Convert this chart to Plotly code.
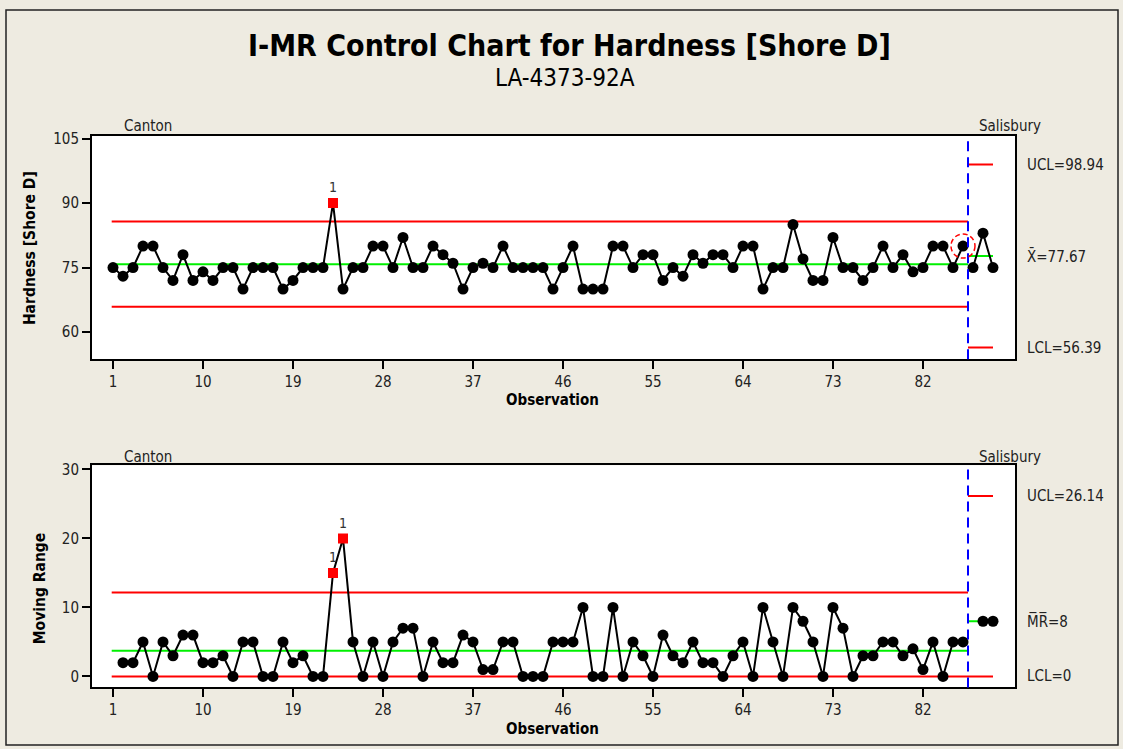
import plotly.graph_objects as go

# ---------------- data ----------------
observations = list(range(1, 90))
stage_names = ["Canton", "Salisbury"]
stage_sizes = [86, 3]

hardness = [75, 73, 75, 80, 80, 75, 72, 78, 72, 74, 72, 75, 75, 70, 75, 75, 75, 70, 72, 75,
            75, 75, 90, 70, 75, 75, 80, 80, 75, 82, 75, 75, 80, 78, 76, 70, 75, 76, 75, 80,
            75, 75, 75, 75, 70, 75, 80, 70, 70, 70, 80, 80, 75, 78, 78, 72, 75, 73, 78, 76,
            78, 78, 75, 80, 80, 70, 75, 75, 85, 77, 72, 72, 82, 75, 75, 72, 75, 80, 75, 78,
            74, 75, 80, 80, 75, 80, 75, 83, 75]

moving_range = [None, 2, 2, 5, 0, 5, 3, 6, 6, 2, 2, 3, 0, 5, 5, 0, 0, 5, 2, 3,
                0, 0, 15, 20, 5, 0, 5, 0, 5, 7, 7, 0, 5, 2, 2, 6, 5, 1, 1, 5,
                5, 0, 0, 0, 5, 5, 5, 10, 0, 0, 10, 0, 5, 3, 0, 6, 3, 2, 5, 2,
                2, 0, 3, 5, 0, 10, 5, 0, 10, 8, 5, 0, 10, 7, 0, 3, 3, 5, 5, 3,
                4, 1, 5, 0, 5, 5, None, 8, 8]

x_tick_vals = [1, 10, 19, 28, 37, 46, 55, 64, 73, 82]
i_tick_vals = [60, 75, 90, 105]
mr_tick_vals = [0, 10, 20, 30]
circled_obs = 86

# ---------------- styling ----------------
BG = "#EEEBE1"
FONT = "'DejaVu Sans Condensed', 'Liberation Sans', Arial, sans-serif"
W, H = 1123, 749
XD = [92 / W, 1015 / W]
TOP_D = [1 - 356 / H, 1 - 131 / H]
BOT_D = [1 - 687 / H, 1 - 463 / H]

fig = go.Figure()

# stage boundaries
bounds = []
s = 0
for n in stage_sizes:
    bounds.append((s, s + n))
    s += n

limits_i, limits_mr = [], []
for (a, b) in bounds:
    xs = hardness[a:b]
    mrs = [m for m in moving_range[a:b] if m is not None]
    mean = sum(xs) / len(xs)
    mrbar = sum(mrs) / len(mrs)
    sig = mrbar / 1.128
    limits_i.append((mean - 3 * sig, mean, mean + 3 * sig))
    limits_mr.append((0.0, mrbar, 3.267 * mrbar))

for k, (a, b) in enumerate(bounds):
    xs = observations[a:b]
    yi = hardness[a:b]
    ym = moving_range[a:b]
    lcl, cl, ucl = limits_i[k]
    mlcl, mcl, mucl = limits_mr[k]
    x0 = xs[0] - 0.13 if k == 0 else xs[0] - 0.5
    x1 = xs[-1] + 0.5 if k < len(bounds) - 1 else xs[-1]

    # control lines
    for val, col in [(ucl, "#FF0000"), (cl, "#00F000"), (lcl, "#FF0000")]:
        fig.add_trace(go.Scatter(x=[x0, x1], y=[val, val], mode="lines",
                                 line=dict(color=col, width=2), xaxis="x", yaxis="y",
                                 hoverinfo="skip", showlegend=False))
    for val, col in [(mucl, "#FF0000"), (mcl, "#00F000"), (mlcl, "#FF0000")]:
        fig.add_trace(go.Scatter(x=[x0, x1], y=[val, val], mode="lines",
                                 line=dict(color=col, width=2), xaxis="x2", yaxis="y2",
                                 hoverinfo="skip", showlegend=False))

    # data lines
    fig.add_trace(go.Scatter(x=xs, y=yi, mode="lines", line=dict(color="black", width=2),
                             xaxis="x", yaxis="y", showlegend=False, connectgaps=False))
    fig.add_trace(go.Scatter(x=xs, y=ym, mode="lines", line=dict(color="black", width=2),
                             xaxis="x2", yaxis="y2", showlegend=False, connectgaps=False))

    # normal / flagged points I chart
    nx, ny, fx, fy = [], [], [], []
    for xv, yv in zip(xs, yi):
        if yv > ucl or yv < lcl:
            fx.append(xv); fy.append(yv)
        else:
            nx.append(xv); ny.append(yv)
    fig.add_trace(go.Scatter(x=nx, y=ny, mode="markers",
                             marker=dict(color="black", size=11, symbol="circle"),
                             xaxis="x", yaxis="y", showlegend=False))
    fig.add_trace(go.Scatter(x=fx, y=fy, mode="markers+text", text=["1"] * len(fx),
                             textposition="top center",
                             textfont=dict(family=FONT, size=14, color="#333333"),
                             marker=dict(color="#FF0000", size=10, symbol="square"),
                             xaxis="x", yaxis="y", showlegend=False))

    nx, ny, fx, fy = [], [], [], []
    for xv, yv in zip(xs, ym):
        if yv is None:
            continue
        if yv > mucl:
            fx.append(xv); fy.append(yv)
        else:
            nx.append(xv); ny.append(yv)
    fig.add_trace(go.Scatter(x=nx, y=ny, mode="markers",
                             marker=dict(color="black", size=11, symbol="circle"),
                             xaxis="x2", yaxis="y2", showlegend=False))
    fig.add_trace(go.Scatter(x=fx, y=fy, mode="markers+text", text=["1"] * len(fx),
                             textposition="top center",
                             textfont=dict(family=FONT, size=14, color="#333333"),
                             marker=dict(color="#FF0000", size=10, symbol="square"),
                             xaxis="x2", yaxis="y2", showlegend=False))

# stage divider (blue dashed)
split = observations[stage_sizes[0] - 1] + 0.5
for ax in ["x", "x2"]:
    yref = "y domain" if ax == "x" else "y2 domain"
    fig.add_shape(type="line", xref=ax, yref=yref, x0=split, x1=split, y0=0, y1=1,
                  line=dict(color="#0000FF", width=2, dash="10px,6px"), layer="above")

# red dashed circle around the last Canton point
cy = hardness[circled_obs - 1]
fig.add_shape(type="circle", xref="x", yref="y", x0=circled_obs - 1.2, x1=circled_obs + 1.2,
              y0=cy - 2.8, y1=cy + 2.8, line=dict(color="#FF0000", width=1.5, dash="5px,3px"),
              layer="above")

# outer border
fig.add_shape(type="rect", xref="paper", yref="paper", x0=6 / W, x1=1118 / W, y0=1 - 745 / H,
              y1=1 - 4 / H, line=dict(color="#222", width=1.5), layer="below")

ann = []
# titles
ann.append(dict(text="<b>I-MR Control Chart for Hardness [Shore D]</b>", x=569 / W, y=1 - 40 / H,
                xref="paper", yref="paper", showarrow=False, xanchor="center", yanchor="middle",
                font=dict(family=FONT, size=30, color="black")))
ann.append(dict(text="LA-4373-92A", x=565 / W, y=1 - 73 / H, xref="paper", yref="paper",
                showarrow=False, xanchor="center", yanchor="middle",
                font=dict(family=FONT, size=24, color="black")))
# stage labels
for yy in [121, 455]:
    ann.append(dict(text=stage_names[0], x=122 / W, y=1 - yy / H, xref="paper", yref="paper",
                    showarrow=False, xanchor="left", yanchor="middle",
                    font=dict(family=FONT, size=15, color="#222")))
    ann.append(dict(text=stage_names[1], x=977 / W, y=1 - yy / H, xref="paper", yref="paper",
                    showarrow=False, xanchor="left", yanchor="middle",
                    font=dict(family=FONT, size=15, color="#222")))
# axis titles
for yy in [397, 729]:
    ann.append(dict(text="<b>Observation</b>", x=552 / W, y=1 - yy / H, xref="paper", yref="paper",
                    showarrow=False, xanchor="center", yanchor="middle",
                    font=dict(family=FONT, size=15, color="black")))
ann.append(dict(text="<b>Hardness [Shore D]</b>", x=30 / W, y=1 - 244 / H, xref="paper",
                yref="paper", showarrow=False, textangle=-90, xanchor="center", yanchor="middle",
                font=dict(family=FONT, size=15.5, color="black")))
ann.append(dict(text="<b>Moving Range</b>", x=40 / W, y=1 - 587 / H, xref="paper",
                yref="paper", showarrow=False, textangle=-90, xanchor="center", yanchor="middle",
                font=dict(family=FONT, size=15.5, color="black")))
# limit labels for the last stage
lcl, cl, ucl = limits_i[-1]
mlcl, mcl, mucl = limits_mr[-1]
for txt, val, yr in [(f"UCL={ucl:.2f}", ucl, "y"), ("X\u0304={:.2f}".format(cl), cl, "y"),
                     (f"LCL={lcl:.2f}", lcl, "y"),
                     (f"UCL={mucl:.2f}", mucl, "y2"), ("M\u0305R\u0305={:g}".format(round(mcl, 2)), mcl, "y2"),
                     (f"LCL={mlcl:g}", mlcl, "y2")]:
    ann.append(dict(text=txt, x=1025 / W, y=val, xref="paper", yref=yr, showarrow=False,
                    xanchor="left", yanchor="middle", font=dict(family=FONT, size=15, color="#222")))

axis_common = dict(showline=True, mirror=True, linecolor="black", linewidth=2, ticks="outside",
                   ticklen=8, tickwidth=2, tickcolor="black", showgrid=False, zeroline=False,
                   tickfont=dict(family=FONT, size=15, color="#222"))

fig.update_layout(
    width=W, height=H, margin=dict(l=0, r=0, t=0, b=0),
    paper_bgcolor=BG, plot_bgcolor="white", showlegend=False,
    xaxis=dict(domain=XD, anchor="y", range=[-1.1, 91.2], tickvals=x_tick_vals, **axis_common),
    yaxis=dict(domain=TOP_D, anchor="x", range=[53.7, 105.6], tickvals=i_tick_vals, **axis_common),
    xaxis2=dict(domain=XD, anchor="y2", range=[-1.1, 91.2], tickvals=x_tick_vals, **axis_common),
    yaxis2=dict(domain=BOT_D, anchor="x2", range=[-1.6, 30.6], tickvals=mr_tick_vals, **axis_common),
    annotations=ann,
)

fig.write_html("out.html")
